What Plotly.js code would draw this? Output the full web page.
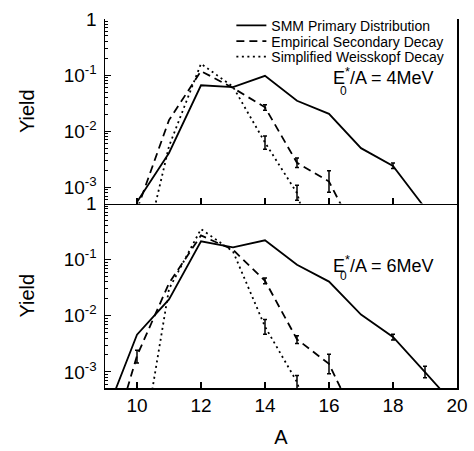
<!DOCTYPE html>
<html>
<head>
<meta charset="utf-8">
<script src="https://cdn.plot.ly/plotly-3.0.1.min.js"></script>
<style>html,body{margin:0;padding:0;background:#fff}#chart{width:474px;height:451px}</style>
</head>
<body>
<div id="chart"></div>
<script>
// ---- Data ----
// Top panel: E0*/A = 4 MeV
var topSmmA = [10, 11, 12, 13, 14, 15, 16, 17, 18, 19];
var topSmmY = [5.5e-4, 4.1e-3, 0.066, 0.061, 0.097, 0.0349, 0.0204, 5.0e-3, 2.41e-3, 4.3e-4];
var topSmmErrP = [NaN, NaN, NaN, NaN, NaN, NaN, NaN, NaN, 3.0e-4, NaN];
var topSmmErrM = [NaN, NaN, NaN, NaN, NaN, NaN, NaN, NaN, 2.5e-4, NaN];

var topEmpA = [10, 11, 12, 13, 14, 15, 16, 17];
var topEmpY = [4.0e-4, 0.0158, 0.118, 0.059, 0.0267, 2.75e-3, 1.27e-3, 1.0e-4];
var topEmpErrP = [NaN, NaN, NaN, NaN, 3.0e-3, 6.0e-4, 7.0e-4, NaN];
var topEmpErrM = [NaN, NaN, NaN, NaN, 3.0e-3, 5.0e-4, 4.5e-4, NaN];

var topWsA = [10, 11, 12, 13, 14, 15, 16];
var topWsY = [2.0e-5, 5.4e-3, 0.16, 0.062, 6.3e-3, 7.9e-4, 1.0e-5];
var topWsErrP = [NaN, NaN, NaN, NaN, 1.9e-3, 3.0e-4, NaN];
var topWsErrM = [NaN, NaN, NaN, NaN, 1.5e-3, 2.0e-4, NaN];

// Bottom panel: E0*/A = 6 MeV
var botSmmA = [9, 10, 11, 12, 13, 14, 15, 16, 17, 18, 19, 20];
var botSmmY = [1.6e-4, 4.6e-3, 0.0195, 0.212, 0.165, 0.221, 0.081, 0.0406, 0.0105, 4.2e-3, 9.9e-4, 2.3e-4];
var botSmmErrP = [NaN, NaN, NaN, NaN, NaN, NaN, NaN, NaN, NaN, 5.0e-4, 2.7e-4, NaN];
var botSmmErrM = [NaN, NaN, NaN, NaN, NaN, NaN, NaN, NaN, NaN, 5.0e-4, 2.0e-4, NaN];

var botEmpA = [9, 10, 11, 12, 13, 14, 15, 16, 17];
var botEmpY = [2.3e-5, 1.94e-3, 0.038, 0.27, 0.15, 0.042, 3.8e-3, 1.39e-3, 9.0e-5];
var botEmpErrP = [NaN, 5.0e-4, NaN, NaN, NaN, 5.0e-3, 6.0e-4, 6.8e-4, NaN];
var botEmpErrM = [NaN, 5.0e-4, NaN, NaN, NaN, 5.0e-3, 6.0e-4, 4.6e-4, NaN];

var botWsA = [10, 11, 12, 13, 14, 15, 16];
var botWsY = [1.1e-5, 0.03, 0.35, 0.14, 6.4e-3, 6.6e-4, 1.0e-5];
var botWsErrP = [NaN, NaN, NaN, NaN, 2.2e-3, 2.0e-4, NaN];
var botWsErrM = [NaN, NaN, NaN, NaN, 1.7e-3, 1.8e-4, NaN];

var seriesNames = ["SMM Primary Distribution", "Empirical Secondary Decay", "Simplified Weisskopf Decay"];
var panelLabels = ["E<sup>*</sup>/A = 4MeV", "E<sup>*</sup>/A = 6MeV"];
var xTickVals = [10, 12, 14, 16, 18, 20];
var yTickVals = [1, 0.1, 0.01, 0.001];
var yTickText = ["1", "10<sup>-1</sup>", "10<sup>-2</sup>", "10<sup>-3</sup>"];

// ---- Styling ----
var FONT = "Liberation Sans, Arial, Helvetica, sans-serif";
var dashes = ["solid", "8px,5px", "2px,3.5px"];
var legendIds = ["legend", "legend2", "legend3"];
var legendRowY = [0.9815, 0.939, 0.897];
var lw = 1.8;

function mk(x, y, ep, em, k, xa, ya, showleg) {
  return {
    type: "scatter", mode: "lines", x: x, y: y, xaxis: xa, yaxis: ya,
    name: seriesNames[k], showlegend: showleg, legend: legendIds[k],
    line: {color: "#000", width: lw, dash: dashes[k]},
    error_y: {type: "data", symmetric: false, array: ep, arrayminus: em,
              visible: true, color: "#000", thickness: 1.5, width: 2}
  };
}

var traces = [
  mk(topSmmA, topSmmY, topSmmErrP, topSmmErrM, 0, "x2", "y2", true),
  mk(topEmpA, topEmpY, topEmpErrP, topEmpErrM, 1, "x2", "y2", true),
  mk(topWsA, topWsY, topWsErrP, topWsErrM, 2, "x2", "y2", true),
  mk(botSmmA, botSmmY, botSmmErrP, botSmmErrM, 0, "x", "y", false),
  mk(botEmpA, botEmpY, botEmpErrP, botEmpErrM, 1, "x", "y", false),
  mk(botWsA, botWsY, botWsErrP, botWsErrM, 2, "x", "y", false)
];

var minorVals = [];
for (var e = -4; e <= 0; e++) for (var m = 2; m <= 9; m++) minorVals.push(m * Math.pow(10, e));

function yax(domain) {
  return {
    type: "log", domain: domain, range: [-3.287, 0], autorange: false,
    showline: true, linecolor: "#000", linewidth: 1.5, mirror: true,
    ticks: "inside", ticklen: 6, tickwidth: 1.2, tickcolor: "#000",
    tickmode: "array", tickvals: yTickVals, ticktext: yTickText,
    ticklabelstandoff: 3,
    tickfont: {family: FONT, size: 19, color: "#000"},
    minor: {ticks: "inside", ticklen: 3, tickwidth: 1, tickcolor: "#000", tickvals: minorVals, showgrid: false},
    showgrid: false, zeroline: false,
    title: {text: "Yield", font: {family: FONT, size: 20, color: "#000"}, standoff: 23.5}
  };
}
function xax(anchor, labels) {
  return {
    anchor: anchor, range: [9, 20], autorange: false,
    showline: true, linecolor: "#000", linewidth: 1.5, mirror: false,
    ticks: "inside", ticklen: 6, tickwidth: 1.2, tickcolor: "#000",
    tickmode: "array", tickvals: xTickVals, showticklabels: labels,
    tickfont: {family: FONT, size: 19, color: "#000"},
    showgrid: false, zeroline: false
  };
}

var xb = xax("y", true);
xb.title = {text: "A", font: {family: FONT, size: 20, color: "#000"}, standoff: 14};
var xt = xax("y2", false);
xt.matches = "x";

function leg(k) {
  return {x: 0.359, xanchor: "left", y: legendRowY[k], yanchor: "middle",
          bgcolor: "rgba(0,0,0,0)", borderwidth: 0,
          font: {family: FONT, size: 14, color: "#000"}};
}

var layout = {
  width: 474, height: 451,
  margin: {l: 105, r: 17, t: 10, b: 63, pad: 0},
  paper_bgcolor: "#fff", plot_bgcolor: "#fff",
  font: {family: FONT, color: "#000"},
  xaxis: xb, xaxis2: xt,
  yaxis: yax([0, 0.5]), yaxis2: yax([0.5, 1]),
  showlegend: true,
  legend: leg(0), legend2: leg(1), legend3: leg(2),
  annotations: [
    {xref: "paper", yref: "paper", x: 0.642, y: 0.845, xanchor: "left", yanchor: "middle",
     text: panelLabels[0], showarrow: false, font: {family: FONT, size: 18, color: "#000"}},
    {xref: "paper", yref: "paper", x: 0.677, y: 0.805, xanchor: "center", yanchor: "middle",
     text: "0", showarrow: false, font: {family: FONT, size: 12, color: "#000"}},
    {xref: "paper", yref: "paper", x: 0.642, y: 0.336, xanchor: "left", yanchor: "middle",
     text: panelLabels[1], showarrow: false, font: {family: FONT, size: 18, color: "#000"}},
    {xref: "paper", yref: "paper", x: 0.677, y: 0.304, xanchor: "center", yanchor: "middle",
     text: "0", showarrow: false, font: {family: FONT, size: 12, color: "#000"}}
  ]
};

Plotly.newPlot("chart", traces, layout, {staticPlot: true, displayModeBar: false});
</script>
</body>
</html>
